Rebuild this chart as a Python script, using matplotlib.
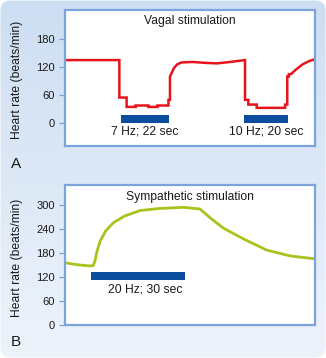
import numpy as np
import matplotlib
matplotlib.use("Agg")
import matplotlib.pyplot as plt
from matplotlib.patches import FancyBboxPatch
from matplotlib.colors import LinearSegmentedColormap

plt.rcParams['font.family'] = ['Liberation Sans', 'DejaVu Sans']

# ---- Data: panel A (vagal stimulation) ----
vagal_t = [0, 24.7, 24.7, 28.0, 28.0, 32.1, 32.1, 37.9, 37.9, 42.0, 42.0, 47.0,
           47.0, 47.7, 47.7, 48.5, 49.5, 51.0, 53.0, 58.0, 64.0, 69.0, 75.0, 81.8,
           81.8, 83.3, 83.3, 87.1, 87.1, 100.0, 100.0, 101.0, 101.0, 101.7, 101.7,
           102.7, 105.0, 108.0, 111.0, 113.6]
vagal_hr = [135, 135, 55, 55, 35, 35, 38, 38, 35, 35, 38, 38,
            50, 50, 100, 108, 118, 126, 130, 131, 129, 128, 131, 135,
            50, 50, 40, 40, 33, 33, 40, 40, 100, 100, 105,
            105, 115, 126, 133, 137]
vagal_bar_start = [25.3, 81.5]
vagal_bar_dur = [22, 20]
vagal_bar_labels = ["7 Hz; 22 sec", "10 Hz; 20 sec"]
vagal_ticks = [0, 60, 120, 180]

# ---- Data: panel B (sympathetic stimulation) ----
symp_t = [0, 4.0, 8.0, 9.0, 9.6, 10.1, 11.2, 13.0, 15.4, 19.0, 24.0, 30.0, 37.8,
          43.1, 46.5, 50.6, 57.0, 64.4, 72.0, 79.9]
symp_hr = [155, 150, 147, 148, 160, 180, 209, 235, 255, 272, 286, 291, 294,
           290, 267, 242, 215, 187, 172, 165]
symp_bar_start = [8.3]
symp_bar_dur = [30]
symp_bar_labels = ["20 Hz; 30 sec"]
symp_ticks = [0, 60, 120, 180, 240, 300]

W, H = 326, 358
fig = plt.figure(figsize=(W / 100, H / 100), dpi=100)

# background with rounded corners and gradient
ax_bg = fig.add_axes([0, 0, 1, 1], zorder=-10)
ax_bg.set_xlim(0, W)
ax_bg.set_ylim(0, H)
ax_bg.axis('off')
cmap = LinearSegmentedColormap.from_list('bg', ['#edf3fb', '#cddef2'])
grad = np.linspace(0, 1, 256).reshape(-1, 1)
im = ax_bg.imshow(grad, extent=[0, W, 0, H], origin='lower', cmap=cmap,
                  aspect='auto', interpolation='bilinear')
patch = FancyBboxPatch((0.5, 0.5), W - 1, H - 1, boxstyle="round,pad=0,rounding_size=10",
                       transform=ax_bg.transData, facecolor='none', edgecolor='none')
ax_bg.add_patch(patch)
im.set_clip_path(patch)

spine_col = '#7ba4dc'
bar_col = '#0b4c9c'
txt_col = '#1a1a1a'
fs = 8.7


def style(ax):
    ax.set_facecolor('white')
    for s in ax.spines.values():
        s.set_color(spine_col)
        s.set_linewidth(1.6)
    ax.set_xticks([])
    ax.tick_params(axis='y', direction='out', length=4.5, width=0.9, color=spine_col,
                   labelsize=8, labelcolor=txt_col, pad=3)


# Panel A
axA = fig.add_axes([65 / W, 1 - 146 / H, 250 / W, 136 / H])
style(axA)
axA.plot(vagal_t, vagal_hr, color='#e8141c', lw=1.8, solid_joinstyle='miter')
axA.barh([10] * len(vagal_bar_start), vagal_bar_dur, left=vagal_bar_start,
         height=17, color=bar_col)
for s, d, lab in zip(vagal_bar_start, vagal_bar_dur, vagal_bar_labels):
    axA.text(s + d / 2, -17, lab, ha='center', va='center', fontsize=fs, color=txt_col)
axA.set_xlim(0, 113.6)
axA.set_ylim(-48.5, 242)
axA.set_yticks(vagal_ticks)
axA.text(0.5, 0.92, "Vagal stimulation", transform=axA.transAxes, ha='center',
         va='center', fontsize=fs, color=txt_col)

# Panel B
axB = fig.add_axes([65 / W, 1 - 325 / H, 250 / W, 140 / H])
style(axB)
axB.plot(symp_t, symp_hr, color='#a6c41c', lw=2.0)
axB.barh([122] * len(symp_bar_start), symp_bar_dur, left=symp_bar_start,
         height=18, color=bar_col)
for s, d, lab in zip(symp_bar_start, symp_bar_dur, symp_bar_labels):
    axB.text(25.6, 88, lab, ha='center', va='center', fontsize=fs, color=txt_col)
axB.set_xlim(0, 79.9)
axB.set_ylim(-1, 350)
axB.set_yticks(symp_ticks)
axB.text(0.5, 0.916, "Sympathetic stimulation", transform=axB.transAxes, ha='center',
         va='center', fontsize=fs, color=txt_col)

# y labels and panel letters
fig.text(17 / W, 1 - 80 / H, "Heart rate (beats/min)", rotation=90, ha='center',
         va='center', fontsize=fs, color=txt_col)
fig.text(17 / W, 1 - 257.5 / H, "Heart rate (beats/min)", rotation=90, ha='center',
         va='center', fontsize=fs, color=txt_col)
fig.text(16 / W, 1 - 163.5 / H, "A", ha='center', va='center', fontsize=11, color=txt_col)
fig.text(16 / W, 1 - 342.5 / H, "B", ha='center', va='center', fontsize=11, color=txt_col)

fig.savefig('out.png', dpi=100)
